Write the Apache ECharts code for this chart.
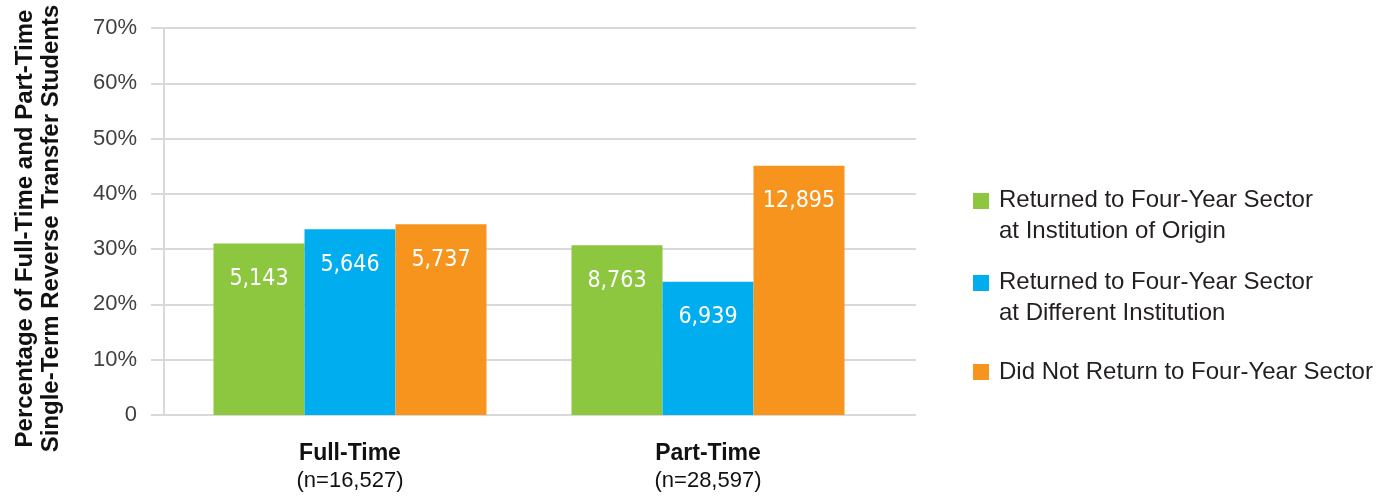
<!DOCTYPE html>
<html>
<head>
<meta charset="utf-8">
<script src="https://cdn.jsdelivr.net/npm/echarts@6/dist/echarts.min.js"></script>
<style>
  html, body { margin: 0; padding: 0; background: #ffffff; }
  #chart { width: 1396px; height: 500px; }
</style>
</head>
<body>
<div id="chart"></div>
<script>
// ---- Data ----
const categories = ['Full-Time', 'Part-Time'];
const categoryN = ['(n=16,527)', '(n=28,597)'];
const seriesNames = [
  'Returned to Four-Year Sector\nat Institution of Origin',
  'Returned to Four-Year Sector\nat Different Institution',
  'Did Not Return to Four-Year Sector'
];
// percentages (bar heights)
const pctOrigin = [31.0, 30.7];
const pctDifferent = [33.6, 24.1];
const pctNotReturn = [34.5, 45.1];
// counts (bar labels)
const countOrigin = [5143, 8763];
const countDifferent = [5646, 6939];
const countNotReturn = [5737, 12895];
// y axis
const yMin = 0, yMax = 70, yStep = 10;
const yAxisTitle = 'Percentage of Full-Time and Part-Time\nSingle-Term Reverse Transfer Students';

const colors = ['#8DC63F', '#00AEEF', '#F7941D'];

function fmtCount(n) {
  return String(n).replace(/\B(?=(\d{3})+(?!\d))/g, ',');
}

const chart = echarts.init(document.getElementById('chart'), null, { renderer: 'canvas' });

const iconTwoLine = 'path://M0,0h16v16h-16z M21,46h0';
const iconOneLine = 'path://M0,15h16v16h-16z M0,0h0 M21,46h0';

function barSeries(idx, values, counts) {
  return {
    name: seriesNames[idx],
    type: 'bar',
    xAxisIndex: 0,
    yAxisIndex: 0,
    data: values,
    barWidth: 91,
    barGap: '0%',
    itemStyle: { color: colors[idx] },
    label: {
      show: true,
      position: 'insideTop',
      distance: 24,
      color: '#ffffff',
      fontFamily: "'DejaVu Sans Condensed', 'Liberation Sans Narrow', sans-serif",
      fontSize: 23,
      formatter: function (p) { return fmtCount(counts[p.dataIndex]); }
    }
  };
}

const option = {
  backgroundColor: '#ffffff',
  animation: false,
  grid: [
    { left: 171, top: 28, width: 716, height: 387, containLabel: false, outerBoundsMode: 'none' },
    { left: 164, top: 28, width: 752, height: 387, containLabel: false, outerBoundsMode: 'none' }
  ],
  xAxis: [
    {
      type: 'category',
      gridIndex: 0,
      data: categories,
      axisLine: { show: false },
      axisTick: { show: false },
      axisLabel: {
        margin: 25,
        formatter: function (v, i) { return '{b|' + v + '}\n{n|' + categoryN[i] + '}'; },
        rich: {
          b: { fontFamily: "'Liberation Sans', Arial, sans-serif", fontWeight: 'bold', fontSize: 23, lineHeight: 27, color: '#111111' },
          n: { fontFamily: "'Liberation Sans', Arial, sans-serif", fontSize: 22, lineHeight: 27, color: '#111111' }
        }
      }
    },
    { type: 'value', gridIndex: 1, show: false }
  ],
  yAxis: [
    { type: 'value', gridIndex: 0, min: yMin, max: yMax, interval: yStep, show: false },
    {
      type: 'value',
      gridIndex: 1,
      min: yMin,
      max: yMax,
      interval: yStep,
      name: yAxisTitle,
      nameLocation: 'middle',
      nameRotate: 90,
      nameGap: 100,
      nameTextStyle: {
        fontFamily: "'Liberation Sans', Arial, sans-serif",
        fontWeight: 'bold',
        fontSize: 24,
        lineHeight: 26,
        color: '#111111',
        padding: [0, 14, 0, 0]
      },
      axisLine: { show: true, lineStyle: { color: '#d9d9d9', width: 2 } },
      axisTick: { show: true, inside: false, length: 13, lineStyle: { color: '#d9d9d9', width: 2 } },
      splitLine: { show: true, lineStyle: { color: '#d9d9d9', width: 2 } },
      axisLabel: {
        margin: 27,
        fontFamily: "'Liberation Sans', Arial, sans-serif",
        fontSize: 22,
        color: '#404040',
        formatter: function (v) { return v === 0 ? '0' : v + '%'; }
      }
    }
  ],
  legend: {
    orient: 'vertical',
    left: 973,
    top: 185,
    padding: 0,
    itemGap: 20,
    itemWidth: 21,
    itemHeight: 46,
    selectedMode: false,
    textStyle: {
      fontFamily: "'Liberation Sans', Arial, sans-serif",
      fontSize: 24,
      lineHeight: 31,
      color: '#231f20'
    },
    data: [
      { name: seriesNames[0], icon: iconTwoLine },
      { name: seriesNames[1], icon: iconTwoLine },
      { name: seriesNames[2], icon: iconOneLine }
    ]
  },
  series: [
    barSeries(0, pctOrigin, countOrigin),
    barSeries(1, pctDifferent, countDifferent),
    barSeries(2, pctNotReturn, countNotReturn)
  ]
};

chart.setOption(option);
</script>
</body>
</html>
